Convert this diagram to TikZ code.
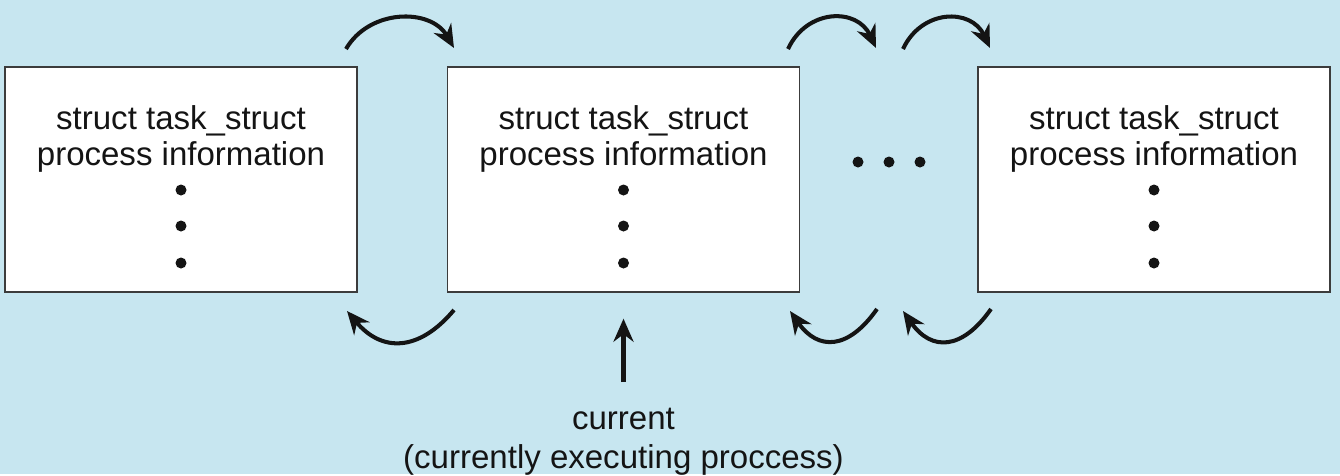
\documentclass[tikz,border=0pt]{standalone}
\usepackage{fontspec}
\setmainfont{Liberation Sans}
\usetikzlibrary{arrows.meta}
\definecolor{bgblue}{RGB}{199,230,240}
\definecolor{boxedge}{RGB}{60,60,60}
\definecolor{ink}{RGB}{20,20,20}

\begin{document}
\begin{tikzpicture}[x=0.02cm,y=0.02cm,
  task/.style={draw=boxedge, line width=0.8pt, fill=white, minimum width=7.04cm, minimum height=4.5cm, inner sep=0pt},
  info/.style={align=center, text=ink, inner sep=0pt, font=\fontsize{18.8pt}{21pt}\selectfont},
  link/.style={ink, line width=2.3pt, -{Stealth[length=0.46cm,width=0.4cm]}},
]
\fill[bgblue] (0,0) rectangle (1340,-474);

\node[task] (task1) at (181,-179.5) {};
\node[task] (task2) at (623.5,-179.5) {};
\node[task] (task3) at (1154,-179.5) {};

\node[info] (info1) at (181,-139) {struct task\_struct\\process information};
\node[info] (info2) at (623.5,-139) {struct task\_struct\\process information};
\node[info] (info3) at (1154,-139) {struct task\_struct\\process information};

\foreach \x in {181,623.5,1154}
  \foreach \y in {-190,-226,-263}
    \fill[ink] (\x,\y) circle (5.5);
\foreach \x in {858,889,920}
  \fill[ink] (\x,-162) circle (5.5);

\coordinate (fwd1s) at (346,-49);
\coordinate (fwd1e) at (454,-48);
\coordinate (fwd2s) at (788,-49);
\coordinate (fwd2e) at (876,-48);
\coordinate (fwd3s) at (903,-49);
\coordinate (fwd3e) at (990,-48);
\coordinate (back1s) at (454,-310);
\coordinate (back1e) at (347,-311);
\coordinate (back2s) at (877,-309);
\coordinate (back2e) at (790,-311);
\coordinate (back3s) at (991,-309);
\coordinate (back3e) at (903,-311);

\draw[link] (fwd1s) to[out=60,in=120,looseness=1.1] (fwd1e);
\draw[link] (fwd2s) to[out=65,in=115,looseness=1.3] (fwd2e);
\draw[link] (fwd3s) to[out=65,in=115,looseness=1.3] (fwd3e);
\draw[link] (back1s) to[out=-130,in=-50,looseness=1.3] (back1e);
\draw[link] (back2s) to[out=-125,in=-55,looseness=1.45] (back2e);
\draw[link] (back3s) to[out=-125,in=-55,looseness=1.45] (back3e);

\node[info, font=\fontsize{18.8pt}{22.2pt}\selectfont] (cur) at (623.5,-442) {current\\(currently executing proccess)};
\draw[link, shorten <=0.52cm, shorten >=0.52cm] (cur) -- (task2);
\end{tikzpicture}
\end{document}
